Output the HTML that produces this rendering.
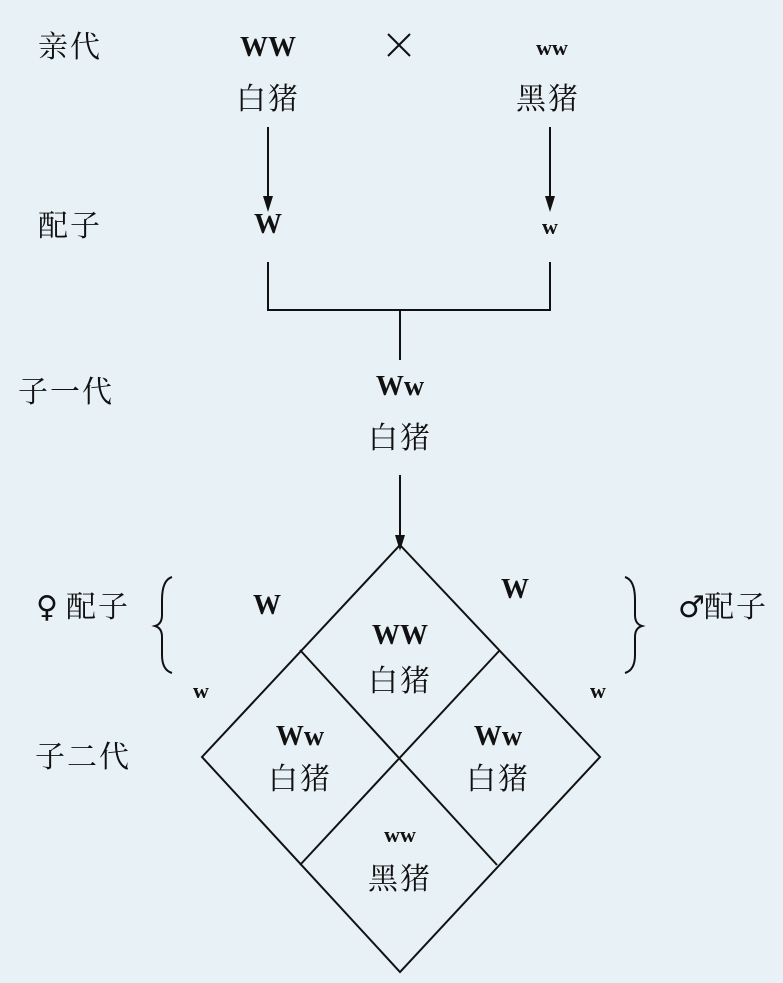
<!DOCTYPE html>
<html><head><meta charset="utf-8"><style>
html,body{margin:0;padding:0;background:#e8f1f6;}
svg{display:block}
.c{font-family:"Liberation Serif","Noto Serif CJK SC","Noto Sans CJK SC",serif;font-size:30px;fill:#111;letter-spacing:2px}
.l{font-family:"Liberation Serif",serif;font-size:28px;font-weight:bold;fill:#111}
.s{font-family:"Liberation Serif",serif;font-size:22px;font-weight:bold;fill:#111}
.g{font-family:"DejaVu Sans",sans-serif;font-size:30px;fill:#111}
</style></head><body>
<svg width="783" height="983" viewBox="0 0 783 983" xmlns="http://www.w3.org/2000/svg">
<rect width="783" height="983" fill="#e8f1f6"/>
<g stroke="#111" stroke-width="2" fill="none">
<line x1="268" y1="127" x2="268" y2="198"/>
<line x1="550" y1="127" x2="550" y2="198"/>
<polyline points="268,262 268,310 550,310 550,262"/>
<line x1="400" y1="310" x2="400" y2="360"/>
<line x1="400" y1="475" x2="400" y2="545"/>
<polygon points="400,545 600,757 400,972 202,757"/>
<line x1="300" y1="650" x2="497" y2="865"/>
<line x1="500" y1="650" x2="300" y2="865"/>
<path d="M172,577 Q162,580 162,600 L162,615 Q162,624 155,626 Q162,628 162,637 L162,655 Q162,670 172,673"/>
<path d="M625,577 Q635,580 635,600 L635,615 Q635,624 642,626 Q635,628 635,637 L635,655 Q635,670 625,673"/>
<line x1="388" y1="34" x2="410" y2="56"/>
<line x1="410" y1="34" x2="388" y2="56"/>
</g>
<g fill="#111">
<polygon points="263,196 273,196 268,212"/>
<polygon points="545,196 555,196 550,212"/>
<polygon points="395,535 405,535 400,551"/>
</g>
<text class="c" x="38" y="57">亲代</text>
<text class="l" x="268" y="56" text-anchor="middle">WW</text>
<text class="s" x="552" y="55" text-anchor="middle">ww</text>
<text class="c" x="268" y="109" text-anchor="middle">白猪</text>
<text class="c" x="548" y="109" text-anchor="middle">黑猪</text>
<text class="c" x="38" y="236">配子</text>
<text class="l" x="268" y="233" text-anchor="middle">W</text>
<text class="s" x="550" y="234" text-anchor="middle">w</text>
<text class="c" x="18" y="402">子一代</text>
<text class="l" x="400" y="395" text-anchor="middle">Ww</text>
<text class="c" x="400" y="448" text-anchor="middle">白猪</text>
<text class="g" x="36" y="617">♀</text>
<text class="c" x="66" y="617">配子</text>
<text class="l" x="267" y="614" text-anchor="middle">W</text>
<text class="l" x="515" y="598" text-anchor="middle">W</text>
<text class="g" x="678" y="617">♂</text>
<text class="c" x="704" y="617">配子</text>
<text class="s" x="201" y="698" text-anchor="middle">w</text>
<text class="s" x="598" y="698" text-anchor="middle">w</text>
<text class="c" x="35" y="767">子二代</text>
<text class="l" x="400" y="644" text-anchor="middle">WW</text>
<text class="c" x="400" y="691" text-anchor="middle">白猪</text>
<text class="l" x="300" y="745" text-anchor="middle">Ww</text>
<text class="c" x="300" y="789" text-anchor="middle">白猪</text>
<text class="l" x="498" y="745" text-anchor="middle">Ww</text>
<text class="c" x="498" y="789" text-anchor="middle">白猪</text>
<text class="s" x="400" y="842" text-anchor="middle">ww</text>
<text class="c" x="400" y="889" text-anchor="middle">黑猪</text>
</svg>
</body></html>
